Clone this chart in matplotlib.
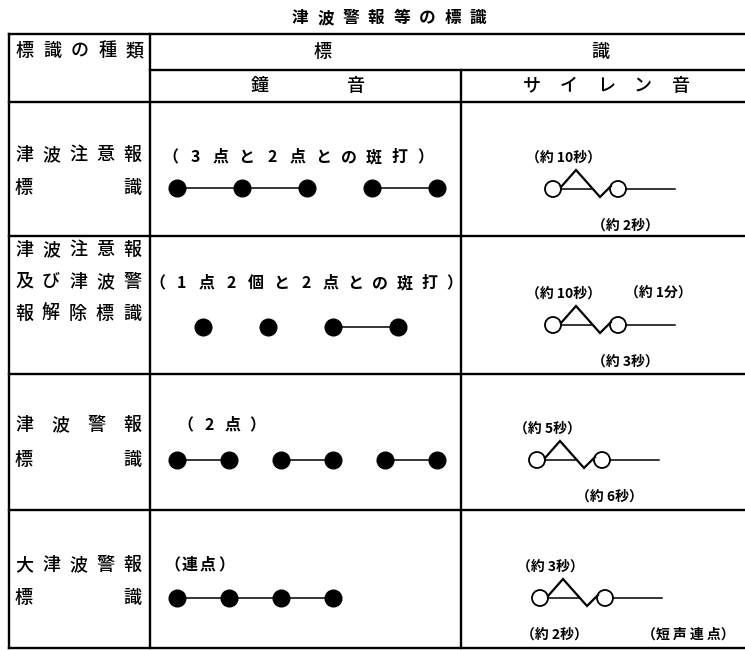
import matplotlib
matplotlib.use("Agg")
import matplotlib.pyplot as plt
from matplotlib.patches import Circle

plt.rcParams['font.family'] = ['Noto Sans CJK JP', 'DejaVu Sans']

# ---- table content ----
title = "津波警報等の標識"
head_kind = "標識の種類"
head_sign = ["標", "識"]
head_bell = ["鐘", "音"]
head_siren = "サイレン音"

row_labels = [
    ["津波注意報", "標識"],
    ["津波注意報", "及び津波警", "報解除標識"],
    ["津波警報", "標識"],
    ["大津波警報", "標識"],
]
bell_captions = ["（3点と2点との斑打）", "（1点2個と2点との斑打）", "（2点）", "（連点）"]
bell_groups = [[3, 2], [1, 1, 2], [2, 2, 2], [4]]
siren_top = ["（約 10秒）", "（約 10秒）", "（約 5秒）", "（約 3秒）"]
siren_top_right = ["", "（約 1分）", "", ""]
siren_bottom = ["（約 2秒）", "（約 3秒）", "（約 6秒）", "（約 2秒）"]
siren_bottom_right = ["", "", "", "（短 声 連 点）"]

# ---- layout (pixels) ----
W, H = 745, 650
x_left, x_col1, x_col2, x_right = 9, 150, 461, 745
y_top, y_head_mid, y_head_bot = 34, 70, 102
row_bounds = [102, 236, 374, 510, 648]

label_lines_y = [[155, 188], [250, 282, 314], [425, 460], [565, 598]]
caption_pos = [(170, 157, 25.5), (157, 283, 24.8), (185, 425, 24), (172, 565, 18)]
dots_y = [188, 327, 460, 598]
dots_x0 = [177, 203, 177, 177]
dots_step = [65, 65, 52, 52]
siren_cx = [553, 553, 537, 540]
siren_cy = [189, 325, 460, 598]


def spaced(ax, text, x0, x1, y, **kw):
    n = len(text)
    step = (x1 - x0) / (n - 1) if n > 1 else 0
    for i, ch in enumerate(text):
        ax.text(x0 + i * step, y, ch, ha='center', va='center', **kw)


def stepped(ax, text, x0, y, step, **kw):
    for i, ch in enumerate(text):
        ax.text(x0 + i * step, y, ch, ha='center', va='center', **kw)


fig = plt.figure(figsize=(W / 100, H / 100), dpi=100)
ax = fig.add_axes([0, 0, 1, 1])
ax.set_xlim(0, W)
ax.set_ylim(H, 0)
ax.set_aspect('equal')
ax.axis('off')

lw = 1.7
k = 'black'
tw = 'medium'
sfs = 10  # siren label font size
# grid lines
for y in [y_top, y_head_bot] + row_bounds[1:]:
    ax.plot([x_left, x_right], [y, y], color=k, lw=lw)
ax.plot([x_col1, x_right], [y_head_mid, y_head_mid], color=k, lw=lw)
ax.plot([x_left, x_left], [y_top, row_bounds[-1]], color=k, lw=lw)
ax.plot([x_col1, x_col1], [y_top, row_bounds[-1]], color=k, lw=lw)
ax.plot([x_col2, x_col2], [y_head_mid, row_bounds[-1]], color=k, lw=lw)

# title and headers
spaced(ax, title, 300, 478, 18, fontsize=12, fontweight='bold')
spaced(ax, head_kind, 25, 135, 51, fontsize=13, fontweight=tw)
ax.text(323, 52, head_sign[0], ha='center', va='center', fontsize=13, fontweight=tw)
ax.text(600, 52, head_sign[1], ha='center', va='center', fontsize=13, fontweight=tw)
ax.text(260, 86, head_bell[0], ha='center', va='center', fontsize=13, fontweight=tw)
ax.text(355, 86, head_bell[1], ha='center', va='center', fontsize=13, fontweight=tw)
spaced(ax, head_siren, 532, 680, 86, fontsize=13, fontweight=tw)

for r in range(4):
    # left column labels
    for line, y in zip(row_labels[r], label_lines_y[r]):
        spaced(ax, line, 24, 132, y, fontsize=13, fontweight=tw)

    # bell caption
    cx0, cy, cstep = caption_pos[r]
    stepped(ax, bell_captions[r], cx0, cy, cstep, fontsize=11.5, fontweight='bold')

    # bell dots
    i = 0
    for g in bell_groups[r]:
        xs = [dots_x0[r] + (i + j) * dots_step[r] for j in range(g)]
        ax.plot(xs, [dots_y[r]] * g, '-o', color=k, lw=1.1, ms=12)
        i += g

    # siren symbol
    cx, cy = siren_cx[r], siren_cy[r]
    rad = 8
    ax.add_patch(Circle((cx, cy), rad, fill=False, ec=k, lw=1.3))
    ax.add_patch(Circle((cx + 65, cy), rad, fill=False, ec=k, lw=1.3))
    px, py = cx + 23, cy - 19
    vx, vy = cx + 47, cy + 8
    ax.plot([cx + rad, px, vx, cx + 65 - rad + 1],
            [cy - 2, py, vy, cy - 3], color=k, lw=1.6, solid_joinstyle='miter')
    xc = px + (vx - px) * (cy - py) / (vy - py)
    ax.plot([cx + rad, xc], [cy, cy], color=k, lw=1.1)
    ax.plot([cx + 65 + rad, cx + 122], [cy, cy], color=k, lw=1.1)

    # siren durations
    ax.text(cx + 10, cy - 31, siren_top[r], ha='center', va='center',
            fontsize=sfs, fontweight='bold')
    if siren_top_right[r]:
        ax.text(cx + 105, cy - 31, siren_top_right[r], ha='center', va='center',
                fontsize=sfs, fontweight='bold')
    bx = cx + 72 if not siren_bottom_right[r] else cx + 14
    ax.text(bx, cy + 37, siren_bottom[r], ha='center', va='center',
            fontsize=sfs, fontweight='bold')
    if siren_bottom_right[r]:
        ax.text(cx + 148, cy + 37, siren_bottom_right[r], ha='center', va='center',
                fontsize=sfs, fontweight='bold')

fig.savefig('out.png', dpi=100, facecolor='white')
